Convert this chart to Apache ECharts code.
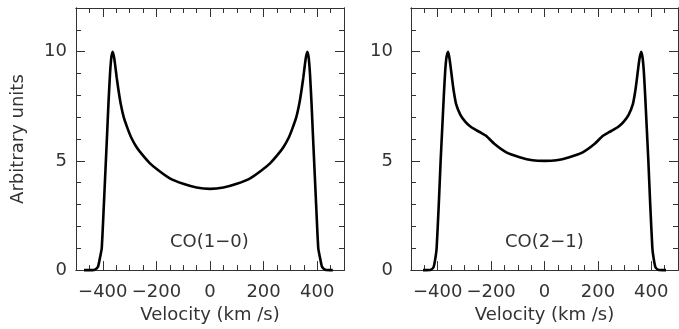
<!doctype html>
<html>
<head>
    <meta charset="UTF-8">
    <title>CO line profiles</title>
    <script src="https://cdn.jsdelivr.net/npm/echarts@6/dist/echarts.min.js"></script>
</head>
<body style="margin: 0; background: #fff">
<div id="main" style="width: 679px; height: 329px"></div>
<script type="text/javascript">
    // CO(1-0) profile, velocity (km/s) and intensity
    var co10Vel = [-470, -455, -430, -418, -410, -404, -396, -390, -384, -379, -373, -368, -363, -358, -353, -348, -341, -333, -322, -308, -294, -275, -255, -225, -193, -150, -100, -50, 0,
        50, 100, 150, 193, 225, 255, 275, 294, 308, 322, 333, 341, 348, 353, 358, 363, 368, 373, 379, 384, 390, 396, 404, 410, 418, 430, 458];
    var co10Int = [0, 0, 0.02, 0.15, 0.6, 1.0, 3.0, 4.6, 6.2, 7.6, 9.0, 9.75, 10.0, 9.75, 9.3, 8.8, 8.2, 7.6, 7.0, 6.5, 6.07, 5.65, 5.32, 4.9, 4.57, 4.2, 3.95, 3.78, 3.72,
        3.78, 3.95, 4.2, 4.57, 4.9, 5.32, 5.65, 6.07, 6.5, 7.0, 7.6, 8.2, 8.8, 9.3, 9.75, 10.0, 9.75, 9.0, 7.6, 6.2, 4.6, 3.0, 1.0, 0.6, 0.15, 0.02, 0];

    // CO(2-1) profile
    var co21Vel = [-455, -425, -415, -408, -404, -396, -389, -383, -377, -372, -367, -361, -356, -351, -346, -340, -331, -315, -297, -280, -262, -240, -218, -187, -143, -93, -45, 0,
        45, 93, 143, 187, 218, 240, 262, 280, 297, 315, 331, 340, 346, 351, 356, 362, 367, 372, 377, 383, 389, 396, 404, 408, 415, 425, 455];
    var co21Int = [0, 0.02, 0.15, 0.6, 1.0, 3.0, 5.0, 6.5, 8.0, 9.1, 9.75, 10.0, 9.7, 9.25, 8.75, 8.2, 7.6, 7.11, 6.8, 6.6, 6.45, 6.3, 6.14, 5.77, 5.39, 5.17, 5.03, 5.0,
        5.03, 5.17, 5.39, 5.77, 6.14, 6.3, 6.45, 6.6, 6.8, 7.11, 7.6, 8.2, 8.75, 9.25, 9.7, 10.0, 9.75, 9.1, 8.0, 6.5, 5.0, 3.0, 1.0, 0.6, 0.15, 0.02, 0];

    var xMajor = [-400, -200, 0, 200, 400];
    var yMajor = [0, 5, 10];
    var panelNames = ['CO(1\u22120)', 'CO(2\u22121)'];

    var font = 'DejaVu Sans';
    var ink = '#333';

    function pairs(xs, ys) {
        var out = [];
        for (var i = 0; i < xs.length; i++) out.push([xs[i], ys[i]]);
        return out;
    }
    function minus(v) {
        return String(v).replace('-', '\u2212');
    }

    var grids = [
        {left: 76, top: 8, width: 268, height: 267},
        {left: 411, top: 8, width: 267, height: 267}
    ];
    var labelGap = [9, 18];

    var xAxes = [];
    var yAxes = [];
    var lineIdx = [];
    for (var g = 0; g < 2; g++) {
        var xBase = {
            type: 'value', gridIndex: g, min: -500, max: 500, interval: 50,
            axisLine: {show: true, onZero: false, lineStyle: {color: ink, width: 1}},
            splitLine: {show: false}, axisLabel: {show: false}
        };
        var yBase = {
            type: 'value', gridIndex: g, min: 0, max: 12, interval: 1,
            axisLine: {show: true, onZero: false, lineStyle: {color: ink, width: 1}},
            splitLine: {show: false}, axisLabel: {show: false}
        };
        var xi = xAxes.length, yi = yAxes.length;
        // bottom: major ticks + labels + name
        xAxes.push(Object.assign({}, xBase, {
            position: 'bottom',
            axisTick: {inside: true, length: 9, customValues: xMajor, lineStyle: {color: ink}},
            axisLabel: {show: true, customValues: xMajor, margin: 13, color: ink, fontFamily: font, fontSize: 18, formatter: minus},
            name: 'Velocity (km /s)', nameLocation: 'middle', nameGap: 32,
            nameTextStyle: {color: ink, fontFamily: font, fontSize: 18}
        }));
        xAxes.push(Object.assign({}, xBase, {position: 'bottom', axisTick: {inside: true, length: 5, lineStyle: {color: ink}}}));
        xAxes.push(Object.assign({}, xBase, {position: 'top', axisTick: {inside: true, length: 9, customValues: xMajor, lineStyle: {color: ink}}}));
        xAxes.push(Object.assign({}, xBase, {position: 'top', axisTick: {inside: true, length: 5, lineStyle: {color: ink}}}));

        var yLeft = Object.assign({}, yBase, {
            position: 'left',
            axisTick: {inside: true, length: 9, customValues: yMajor, lineStyle: {color: ink}},
            axisLabel: {show: true, customValues: yMajor, margin: labelGap[g], color: ink, fontFamily: font, fontSize: 18}
        });
        if (g === 0) {
            yLeft.name = 'Arbitrary units';
            yLeft.nameLocation = 'middle';
            yLeft.nameGap = 49;
            yLeft.nameTextStyle = {color: ink, fontFamily: font, fontSize: 18};
        }
        yAxes.push(yLeft);
        yAxes.push(Object.assign({}, yBase, {position: 'left', axisTick: {inside: true, length: 5, lineStyle: {color: ink}}}));
        yAxes.push(Object.assign({}, yBase, {position: 'right', axisTick: {inside: true, length: 9, customValues: yMajor, lineStyle: {color: ink}}}));
        yAxes.push(Object.assign({}, yBase, {position: 'right', axisTick: {inside: true, length: 5, lineStyle: {color: ink}}}));
        lineIdx.push([xi, yi]);
    }

    var profiles = [pairs(co10Vel, co10Int), pairs(co21Vel, co21Int)];
    var series = [];
    for (var s = 0; s < 2; s++) {
        series.push({
            type: 'line', xAxisIndex: lineIdx[s][0], yAxisIndex: lineIdx[s][1],
            data: profiles[s], showSymbol: false, smooth: 0.2, clip: false,
            lineStyle: {color: '#000', width: 2.6}
        });
    }

    var myChart = echarts.init(document.getElementById('main'));
    var option = {
        backgroundColor: '#fff',
        animation: false,
        grid: grids,
        xAxis: xAxes,
        yAxis: yAxes,
        series: series,
        graphic: [
            {type: 'text', left: 210 - 40, top: 233, style: {text: panelNames[0], fill: ink, font: '18px "DejaVu Sans"'}},
            {type: 'text', left: 545 - 40, top: 233, style: {text: panelNames[1], fill: ink, font: '18px "DejaVu Sans"'}}
        ]
    };
    myChart.setOption(option);
</script>
</body>
</html>
